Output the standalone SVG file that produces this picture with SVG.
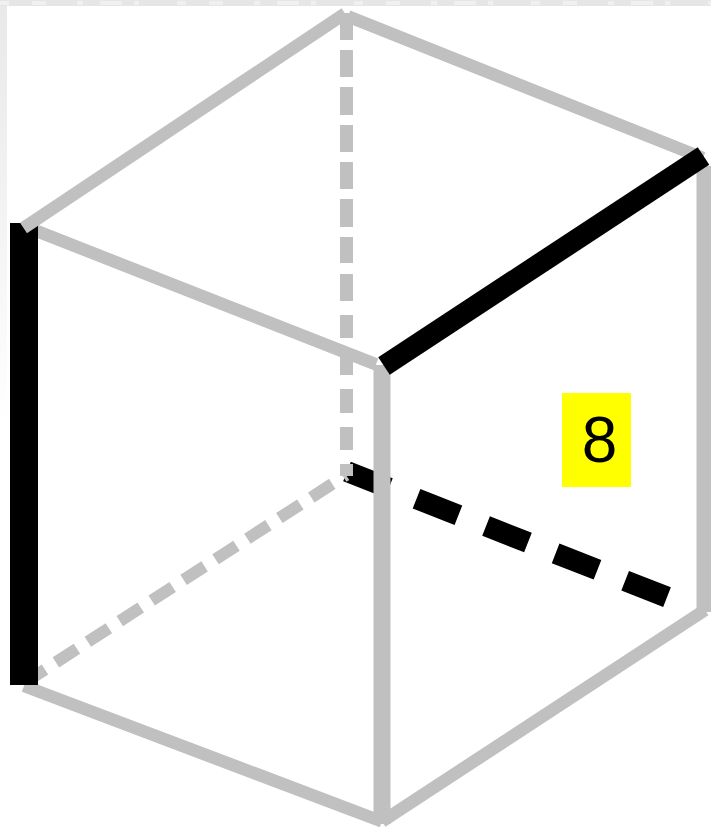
<svg xmlns="http://www.w3.org/2000/svg" width="711" height="829" viewBox="0 0 711 829">
<style>
.g{stroke:#c0c0c0;fill:none}
.k{stroke:#000;fill:none}
.e{stroke-width:12.5}
</style>
<defs>
<linearGradient id="fade" x1="0" y1="0" x2="0" y2="1">
<stop offset="0" stop-color="#e9e9e9"/>
<stop offset="0.5" stop-color="#f3f3f3"/>
<stop offset="1" stop-color="#ffffff"/>
</linearGradient>
</defs>
<rect width="711" height="829" fill="#fff"/>
<g id="paper-edge">
<rect width="711" height="6" fill="#e6e6e6"/>
<line x1="0" y1="3" x2="711" y2="3" stroke="#f0f0f0" stroke-width="4" stroke-dasharray="9 23 14 31 6 17 22 12 5 38"/>
<rect y="6" width="7" height="420" fill="url(#fade)"/>
</g>
<g id="connectors">
<line class="k" x1="347" y1="471.5" x2="667.5" y2="597.3" stroke-width="21" stroke-dasharray="45 29.7"/>
<path class="g" stroke-width="13" d="M346.5 13V40M346.5 50V77M346.5 87V115M346.5 125V152M346.5 162V189M346.5 199V227M346.5 237V263M346.5 274V301M346.5 315V338M346.5 352V375M346.5 389V413M346.5 427V450M346.5 464V476"/>
<line class="g" x1="24" y1="683" x2="346" y2="475" stroke-width="12" stroke-dasharray="25 13"/>
<line class="g e" x1="30" y1="228.4" x2="376" y2="364.4"/>
<line class="g e" x1="24" y1="686" x2="382" y2="821.5"/>
<rect x="10" y="223" width="28" height="462" fill="#000"/>
<line class="g e" x1="23.5" y1="228" x2="345" y2="13.5"/>
<line class="g e" x1="348" y1="16.4" x2="703" y2="158"/>
<line class="g e" x1="382" y1="821.5" x2="705" y2="610"/>
<line class="g" x1="382" y1="365" x2="382" y2="824" stroke-width="17"/>
<line class="g" x1="704" y1="166" x2="704" y2="612" stroke-width="15"/>
<line class="k" x1="384" y1="366" x2="703.5" y2="156" stroke-width="21"/>
</g>
<g id="label">
<rect x="562" y="393" width="69" height="94" fill="#ffff00"/>
<text x="599.5" y="462" font-family="Liberation Sans, Arial, sans-serif" font-size="64" text-anchor="middle" fill="#000">8</text>
</g>
</svg>
